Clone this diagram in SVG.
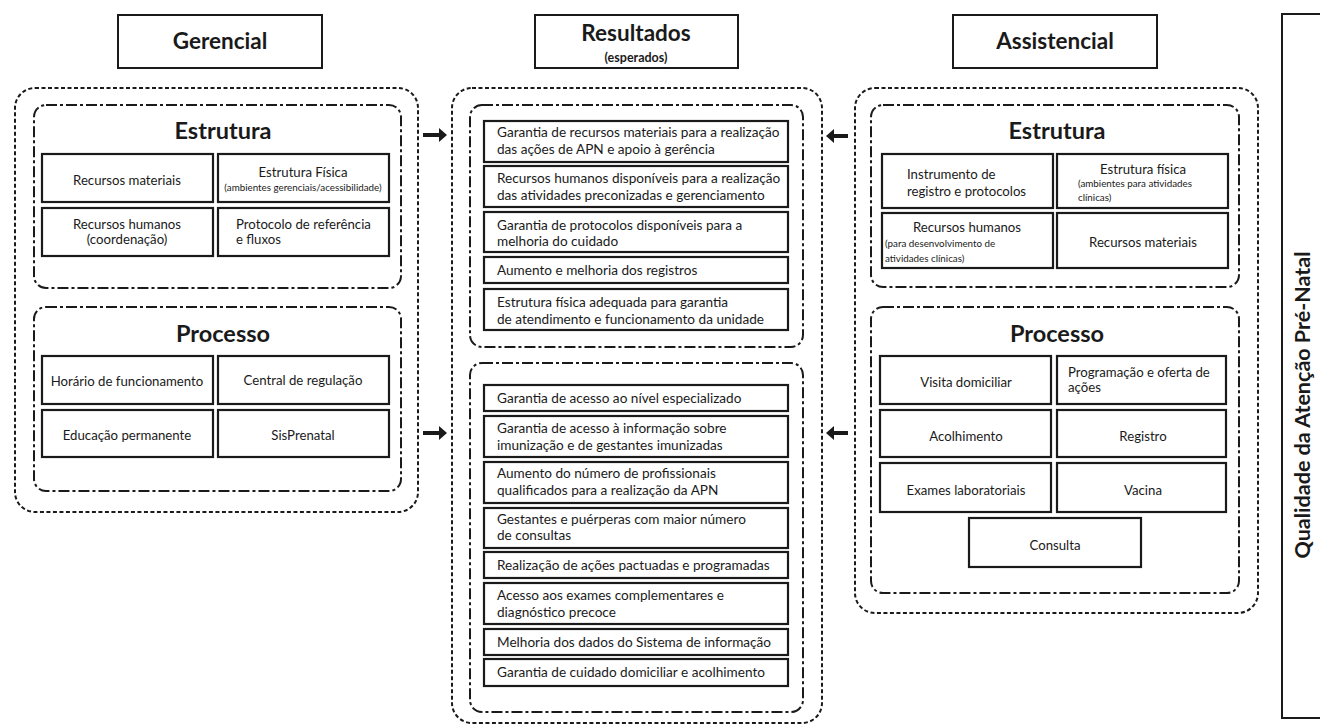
<svg xmlns="http://www.w3.org/2000/svg" width="1320" height="725" viewBox="0 0 1320 725">
<defs>
<style>
.bg{fill:#fff}
.hdr{fill:#fff;stroke:#1a1a1a;stroke-width:2}
.outer{fill:none;stroke:#1a1a1a;stroke-width:2;stroke-dasharray:4 2.5}
.inner{fill:none;stroke:#1a1a1a;stroke-width:2;stroke-dasharray:11 3 3 3}
.cell{fill:#fff;stroke:#1a1a1a;stroke-width:2.2}
text{font-family:Lato,"Liberation Sans",sans-serif;fill:#1a1a1a}
.h1{font-size:22.5px;font-weight:bold;text-anchor:middle}
.h2{font-size:23.5px;font-weight:bold;text-anchor:middle}
.sub{font-size:12.5px;font-weight:bold;text-anchor:middle}
.t{font-size:13.2px}
.c{text-anchor:middle}
.s{font-size:9.8px}
.r{font-size:13.6px}
.arrow{fill:#1a1a1a}
</style>
</defs>
<rect class="bg" x="0" y="0" width="1320" height="725"/>

<g id="hdr-gerencial">
<rect class="hdr" x="118" y="15" width="204" height="53"/>
<text class="h1" x="220" y="49">Gerencial</text>
</g>
<g id="hdr-resultados">
<rect class="hdr" x="535" y="15" width="203" height="53"/>
<text class="h1" x="636" y="41">Resultados</text>
<text class="sub" x="636" y="62">(esperados)</text>
</g>
<g id="hdr-assistencial">
<rect class="hdr" x="953" y="15" width="204" height="53"/>
<text class="h1" x="1055" y="49">Assistencial</text>
</g>
<g id="qualidade">
<rect class="hdr" x="1282" y="14" width="50" height="704"/>
<text class="h1" style="font-size:21.5px" transform="translate(1310,405) rotate(-90)">Qualidade da Atenção Pré-Natal</text>
</g>

<!-- Gerencial -->
<g id="gerencial">
<rect class="outer" x="15" y="88" width="403" height="424" rx="20"/>
<g id="ger-estrutura">
<rect class="inner" x="34" y="105" width="367" height="183" rx="12"/>
<text class="h2" x="223" y="139">Estrutura</text>
<rect class="cell" x="42" y="154" width="171" height="48"/>
<text class="t c" x="127" y="185">Recursos materiais</text>
<rect class="cell" x="218" y="154" width="171" height="48"/>
<text class="t c" x="303" y="177">Estrutura Física</text>
<text class="s c" x="303" y="191">(ambientes gerenciais/acessibilidade)</text>
<rect class="cell" x="42" y="208" width="171" height="48"/>
<text class="t c" x="127" y="229">Recursos humanos</text>
<text class="t c" x="127" y="244">(coordenação)</text>
<rect class="cell" x="218" y="208" width="171" height="48"/>
<text class="t" x="236" y="229">Protocolo de referência</text>
<text class="t" x="236" y="244">e fluxos</text>
</g>
<g id="ger-processo">
<rect class="inner" x="34" y="307" width="367" height="184" rx="12"/>
<text class="h2" x="223" y="342">Processo</text>
<rect class="cell" x="42" y="356" width="171" height="48"/>
<text class="t c" x="127" y="386">Horário de funcionamento</text>
<rect class="cell" x="218" y="356" width="171" height="48"/>
<text class="t c" x="303" y="385">Central  de regulação</text>
<rect class="cell" x="42" y="410" width="171" height="47"/>
<text class="t c" x="127" y="440">Educação permanente</text>
<rect class="cell" x="218" y="410" width="171" height="47"/>
<text class="t c" x="303" y="440">SisPrenatal</text>
</g>
</g>

<!-- Resultados -->
<g id="resultados">
<rect class="outer" x="452" y="88" width="370" height="635" rx="20"/>
<g id="res-estrutura">
<rect class="inner" x="470" y="105" width="333" height="242" rx="12"/>
<rect class="cell" x="484" y="121" width="304" height="41"/>
<text class="r" x="497" y="137">Garantia de recursos materiais para a realização</text>
<text class="r" x="497" y="154">das ações de APN e apoio à gerência</text>
<rect class="cell" x="484" y="166" width="304" height="41"/>
<text class="r" x="497" y="183">Recursos humanos disponíveis para a realização</text>
<text class="r" x="497" y="200">das atividades preconizadas e gerenciamento</text>
<rect class="cell" x="484" y="212" width="304" height="40"/>
<text class="r" x="497" y="230">Garantia de protocolos disponíveis para a</text>
<text class="r" x="497" y="246">melhoria do cuidado</text>
<rect class="cell" x="484" y="257" width="304" height="26"/>
<text class="r" x="497" y="275">Aumento e melhoria dos registros</text>
<rect class="cell" x="484" y="289" width="304" height="41"/>
<text class="r" x="497" y="307">Estrutura física adequada para garantia</text>
<text class="r" x="497" y="324">de atendimento e funcionamento da unidade</text>
</g>
<g id="res-processo">
<rect class="inner" x="470" y="363" width="333" height="349" rx="12"/>
<rect class="cell" x="484" y="385" width="304" height="26"/>
<text class="r" x="497" y="403">Garantia de acesso ao nível especializado</text>
<rect class="cell" x="484" y="416" width="304" height="41"/>
<text class="r" x="497" y="433">Garantia de acesso à informação sobre</text>
<text class="r" x="497" y="450">imunização e de gestantes imunizadas</text>
<rect class="cell" x="484" y="462" width="304" height="41"/>
<text class="r" x="497" y="478">Aumento do número de profissionais</text>
<text class="r" x="497" y="495">qualificados para a realização da APN</text>
<rect class="cell" x="484" y="508" width="304" height="40"/>
<text class="r" x="497" y="524">Gestantes e puérperas com maior número</text>
<text class="r" x="497" y="540">de consultas</text>
<rect class="cell" x="484" y="552" width="304" height="26"/>
<text class="r" x="497" y="570">Realização de ações pactuadas e programadas</text>
<rect class="cell" x="484" y="583" width="304" height="41"/>
<text class="r" x="497" y="600">Acesso aos exames complementares e</text>
<text class="r" x="497" y="617">diagnóstico precoce</text>
<rect class="cell" x="484" y="629" width="304" height="26"/>
<text class="r" x="497" y="647">Melhoria dos dados do Sistema de informação</text>
<rect class="cell" x="484" y="659" width="304" height="27"/>
<text class="r" x="497" y="677">Garantia de cuidado domiciliar e acolhimento</text>
</g>
</g>

<!-- Assistencial -->
<g id="assistencial">
<rect class="outer" x="855" y="88" width="403" height="525" rx="20"/>
<g id="ass-estrutura">
<rect class="inner" x="871" y="105" width="368" height="182" rx="12"/>
<text class="h2" x="1057" y="139">Estrutura</text>
<rect class="cell" x="882" y="154" width="171" height="54"/>
<text class="t" x="907" y="179">Instrumento de</text>
<text class="t" x="907" y="196">registro e protocolos</text>
<rect class="cell" x="1057" y="154" width="171" height="54"/>
<text class="t c" x="1143" y="174">Estrutura  física</text>
<text class="s" x="1078" y="187">(ambientes para atividades</text>
<text class="s" x="1078" y="201">clínicas)</text>
<rect class="cell" x="882" y="213" width="171" height="55"/>
<text class="t c" x="967" y="232">Recursos humanos</text>
<text class="s" x="885" y="247">(para desenvolvimento de</text>
<text class="s" x="885" y="262">atividades clínicas)</text>
<rect class="cell" x="1057" y="213" width="171" height="55"/>
<text class="t c" x="1143" y="247">Recursos materiais</text>
</g>
<g id="ass-processo">
<rect class="inner" x="871" y="307" width="368" height="286" rx="12"/>
<text class="h2" x="1057" y="342">Processo</text>
<rect class="cell" x="880" y="356" width="171" height="48"/>
<text class="t c" x="966" y="387">Visita domiciliar</text>
<rect class="cell" x="1057" y="356" width="169" height="48"/>
<text class="t" x="1068" y="377">Programação e  oferta de</text>
<text class="t" x="1068" y="392">ações</text>
<rect class="cell" x="880" y="410" width="171" height="47"/>
<text class="t c" x="966" y="441">Acolhimento</text>
<rect class="cell" x="1057" y="410" width="169" height="47"/>
<text class="t c" x="1143" y="441">Registro</text>
<rect class="cell" x="880" y="463" width="171" height="49"/>
<text class="t c" x="966" y="495">Exames laboratoriais</text>
<rect class="cell" x="1057" y="463" width="169" height="49"/>
<text class="t c" x="1143" y="495">Vacina</text>
<rect class="cell" x="969" y="518" width="172" height="49"/>
<text class="t c" x="1055" y="550">Consulta</text>
</g>
</g>

<g id="connectors">
<path class="arrow" d="M423,133 L439,133 L439,128 L447,135 L439,142 L439,137 L423,137 Z"/>
<path class="arrow" d="M423,431 L439,431 L439,426 L447,433 L439,440 L439,435 L423,435 Z"/>
<path class="arrow" d="M848,134 L834,134 L834,129 L826,136 L834,143 L834,138 L848,138 Z"/>
<path class="arrow" d="M848,431 L834,431 L834,426 L826,433 L834,440 L834,435 L848,435 Z"/>
</g>
</svg>
